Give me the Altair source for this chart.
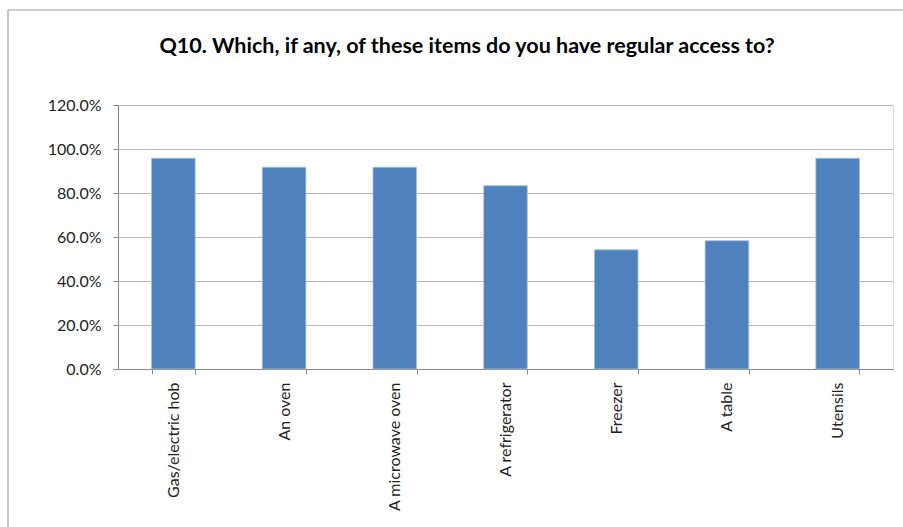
import altair as alt
import pandas as pd

categories = ["Gas/electric hob", "An oven", "A microwave oven", "A refrigerator",
              "Freezer", "A table", "Utensils"]
values = [0.958, 0.917, 0.917, 0.833, 0.542, 0.583, 0.958]
y_ticks = [0, 0.2, 0.4, 0.6, 0.8, 1.0, 1.2]
title_text = "Q10. Which, if any, of these items do you have regular access to?"

df = pd.DataFrame({"item": categories, "share": values})

FONT = "Lato, sans-serif"
W, H = 775, 264
PL, PT = 118, 105

border = alt.Chart(pd.DataFrame({"a": [0]})).mark_rect(
    fill=None, stroke="#a0a0a0", strokeWidth=1.2, clip=False
).encode(
    x=alt.value(8 - PL), x2=alt.value(903 - PL + 20),
    y=alt.value(10 - PT), y2=alt.value(527 - PT + 20)
)

title = alt.Chart(pd.DataFrame({"t": [title_text]})).mark_text(
    font=FONT, fontSize=21.5, fontWeight="bold", color="#000000",
    align="center", baseline="middle"
).encode(x=alt.value(467 - PL), y=alt.value(47 - PT), text="t:N")

bars = alt.Chart(df).mark_bar(
    color="#4F81BD", stroke="#a9c1e0", strokeWidth=0.8
).encode(
    x=alt.X("item:N", sort=categories, title=None,
            scale=alt.Scale(paddingInner=0.606, paddingOuter=0.303),
            axis=alt.Axis(labelAngle=-90, labelAlign="right", labelBaseline="middle",
                          tickBand="extent", tickSize=5, tickColor="#888888",
                          domainColor="#888888", labelPadding=8, labelFontSize=16,
                          labelColor="#222222", labelFont=FONT, grid=False)),
    y=alt.Y("share:Q", title=None,
            scale=alt.Scale(domain=[0, 1.2], nice=False),
            axis=alt.Axis(values=y_ticks, format=".1%", tickSize=5, tickColor="#888888",
                          domainColor="#888888", gridColor="#b8b8b8", labelPadding=12,
                          labelFontSize=16, labelColor="#222222", labelFont=FONT))
)

chart = alt.layer(border, bars, title).properties(
    width=W, height=H,
    padding={"left": PL, "top": PT, "right": 903 - PL - W, "bottom": 527 - PT - H},
    autosize=alt.AutoSizeParams(type="none"),
).configure_view(stroke=None).configure(background="white")

chart.save("out.html", embed_options={"renderer": "svg", "actions": False})
